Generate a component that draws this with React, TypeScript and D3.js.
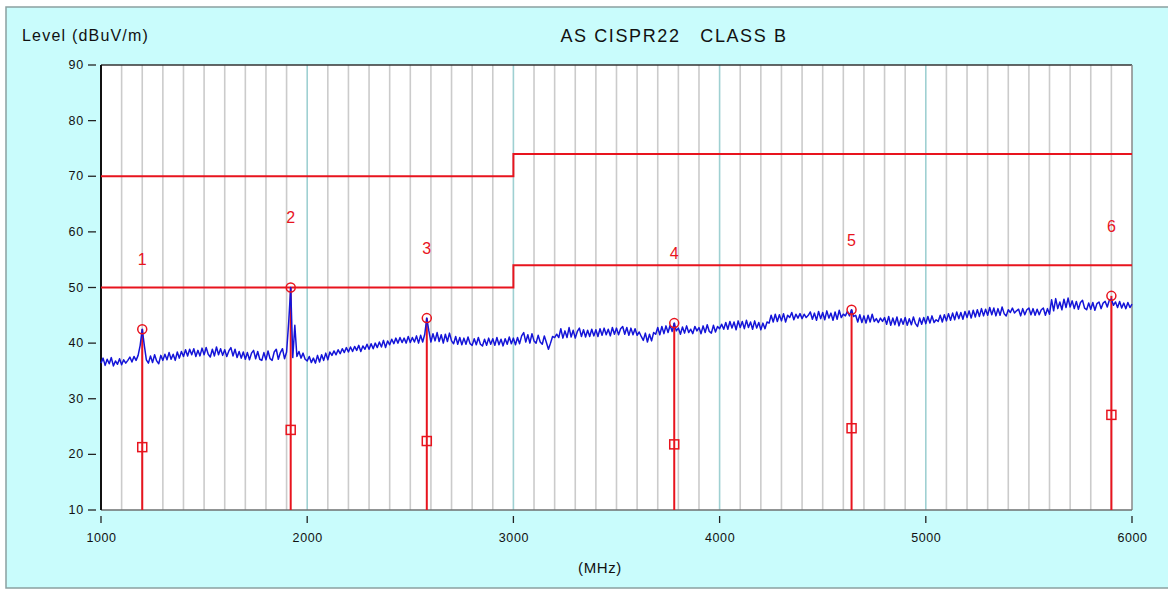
import React from "react";
import * as d3 from "d3";

const chartTitle = "AS CISPR22   CLASS B";
const yAxisTitle = "Level (dBuV/m)";
const xAxisTitle = "(MHz)";

const xTicks = [1000, 2000, 3000, 4000, 5000, 6000];
const yTicks = [10, 20, 30, 40, 50, 60, 70, 80, 90];

// limit lines: [startMHz, endMHz, level]
const peakLimit = [
  [1000, 3000, 70],
  [3000, 6000, 74],
];
const avgLimit = [
  [1000, 3000, 50],
  [3000, 6000, 54],
];

const markerLabels = ["1", "2", "3", "4", "5", "6"];
const markerFreqs = [1200, 1920, 2580, 3780, 4640, 5900];
const markerPeaks = [42.5, 50.0, 44.5, 43.6, 46.0, 48.5];
const markerAverages = [21.3, 24.4, 22.4, 21.8, 24.7, 27.1];

const traceStartMHz = 1000;
const traceStepMHz = 10;
const traceLevels = [
  36.4, 37.3, 36.0, 37.1, 36.3, 37.4, 35.9, 36.8, 36.2, 37.2, 36.1, 37.0, 36.4, 36.9, 37.5, 36.6, 37.6, 36.9, 37.8, 39.6,
  42.5, 39.6, 37.0, 36.4, 37.7, 36.5, 37.9, 36.8, 36.3, 37.8, 36.9, 38.0, 37.0, 38.3, 37.1, 38.0, 36.9, 38.4, 37.3, 38.5,
  37.6, 38.8, 37.7, 38.9, 37.9, 39.0, 37.6, 38.7, 37.7, 39.1, 37.9, 39.2, 38.0, 37.5, 38.9, 37.7, 39.3, 37.9, 39.0, 37.8,
  38.8, 37.6, 38.6, 39.2, 37.7, 38.9, 37.4, 38.5, 37.3, 38.4, 37.1, 38.3, 37.0, 38.2, 38.7, 37.2, 38.5, 37.1, 36.9, 38.3,
  37.0, 38.6, 37.2, 36.9, 38.4, 38.9, 37.1, 38.3, 39.0, 37.2, 38.4, 43.6, 50.0, 37.4, 43.2, 37.6, 38.5, 37.3, 38.2, 37.1,
  36.8, 37.6, 36.5, 37.3, 36.4, 37.8, 36.6, 37.9, 36.9, 38.2, 37.0, 38.4, 37.8, 38.6, 37.9, 38.8, 38.1, 39.0, 38.3, 39.2,
  38.4, 39.3, 38.5, 39.4, 38.7, 39.6, 38.5, 39.5, 38.9, 39.8, 38.9, 39.9, 39.0, 40.0, 39.2, 40.2, 39.3, 40.5, 39.2, 40.4,
  39.7, 40.7, 39.9, 40.9, 40.0, 41.0, 40.1, 40.9, 40.0, 41.2, 40.1, 41.0, 40.2, 41.3, 40.0, 41.4, 40.2, 41.6, 44.5, 42.2,
  40.2, 41.7, 40.4, 41.9, 40.3, 41.5, 40.0, 41.6, 40.3, 41.8, 40.4, 39.9, 41.2, 39.8, 41.0, 39.7, 40.9, 39.8, 41.1, 39.9,
  39.6, 40.8, 39.7, 41.0, 39.8, 39.5, 40.7, 39.6, 40.9, 39.8, 40.8, 39.6, 41.0, 39.7, 40.7, 39.5, 40.8, 39.8, 41.1, 39.9,
  40.9, 39.7, 41.0, 39.9, 41.3, 41.9, 40.2, 41.5, 40.0, 41.7, 40.4, 40.0, 41.4, 40.2, 39.8, 41.3, 40.1, 38.9, 40.0, 41.2,
  41.0, 41.6, 41.0, 42.6, 40.9, 42.2, 41.0, 42.8, 41.1, 42.3, 40.9, 42.1, 42.7, 41.2, 42.4, 41.1, 42.3, 41.2, 42.5, 41.3,
  42.4, 41.2, 42.6, 41.4, 42.7, 41.5, 42.5, 41.3, 42.8, 41.6, 42.7, 41.5, 42.6, 43.0, 41.6, 42.8, 41.4, 42.7, 41.5, 42.6,
  41.4, 42.0, 41.2, 40.5, 41.8, 40.2, 41.6, 40.4, 41.9, 41.6, 42.8, 41.5, 43.0, 41.7, 43.1, 41.9, 43.2, 42.1, 43.6, 42.2,
  42.7, 41.6, 42.9, 41.8, 43.1, 41.9, 42.5, 41.7, 43.0, 42.2, 42.8, 41.7, 43.1, 41.9, 43.3, 42.1, 41.8, 43.2, 42.0, 43.0,
  42.6, 43.4, 42.5, 43.7, 42.5, 43.9, 42.7, 43.8, 42.4, 44.0, 42.8, 43.9, 42.6, 44.1, 42.8, 43.8, 42.5, 44.0, 42.7, 43.7,
  42.4, 43.6, 42.6, 43.8, 43.6, 45.0, 43.8, 45.2, 43.9, 45.1, 44.0, 45.3, 43.8, 45.0, 44.6, 45.5, 44.2, 45.2, 44.5, 45.3,
  44.4, 45.2, 44.6, 45.0, 45.6, 44.3, 45.4, 44.1, 45.7, 44.4, 45.5, 44.2, 45.8, 44.5, 45.4, 44.1, 45.6, 44.3, 45.9, 44.6,
  45.2, 44.9, 45.7, 44.9, 46.0, 44.8, 45.0, 43.8, 45.1, 43.7, 44.9, 43.6, 45.0, 43.8, 45.2, 43.9, 44.4, 43.7, 44.5, 43.9,
  44.6, 43.4, 44.8, 43.2, 44.5, 43.3, 44.7, 43.1, 44.4, 43.4, 44.6, 43.2, 44.4, 43.3, 44.7, 43.5, 43.0, 44.5, 43.4, 44.6,
  43.5, 44.8, 43.6, 44.9, 43.7, 44.2, 43.9, 45.0, 43.8, 45.1, 44.0, 45.3, 44.1, 45.4, 44.2, 45.6, 44.4, 45.5, 44.3, 45.7,
  44.6, 45.8, 44.5, 45.9, 44.7, 46.0, 44.8, 46.2, 44.9, 46.1, 45.0, 46.4, 45.1, 46.3, 44.9, 46.2, 45.0, 46.5, 45.3, 44.9,
  46.0, 45.5, 46.3, 45.4, 45.8, 46.1, 44.9, 46.2, 45.1, 46.0, 46.3, 45.1, 46.2, 45.0, 46.1, 45.1, 46.0, 46.3, 45.0, 46.2,
  45.2, 47.8, 45.8, 48.0, 46.2, 47.4, 46.0, 47.9, 46.4, 48.1, 46.5, 47.6, 46.2, 47.5, 46.1, 47.3, 47.7, 46.3, 46.0, 47.2,
  46.1, 47.3, 45.9, 47.1, 47.4, 46.2, 47.2, 47.5, 46.5, 47.7, 47.9, 46.8, 47.4, 46.4, 47.5, 46.3, 47.2, 46.2, 47.3, 46.4,
  47.0,
];

const W = 1168;
const H = 590;
const plotLeft = 101;
const plotRight = 1132;
const plotTop = 65;
const plotBottom = 510;

const RED = "#e8141e";
const BLUE = "#1414d8";
const FONT = "Arial, 'Liberation Sans', sans-serif";

export default function App() {
  const x = d3.scaleLinear().domain([1000, 6000]).range([plotLeft, plotRight]);
  const y = d3.scaleLinear().domain([10, 90]).range([plotBottom, plotTop]);

  const gridFreqs = d3.range(1100, 6000, 100);

  const tracePts: [number, number][] = traceLevels.map((v, i) => [traceStartMHz + i * traceStepMHz, v]);
  const traceLine = d3
    .line<[number, number]>()
    .x((d) => x(d[0]))
    .y((d) => y(d[1]));

  const limitPath = (segs: number[][]) => {
    const pts: [number, number][] = [];
    segs.forEach((s) => {
      pts.push([s[0], s[2]]);
      pts.push([s[1], s[2]]);
    });
    return d3
      .line<[number, number]>()
      .x((d) => x(d[0]))
      .y((d) => y(d[1]))(pts) as string;
  };

  const labelOffsetDb = 12.5;

  return (
    <svg
      width={W}
      height={H}
      style={{ position: "absolute", left: 0, top: 0, background: "#ffffff" }}
      fontFamily={FONT}
    >
      <rect x={6} y={7} width={W} height={581} fill="#c9fcfc" stroke="#8aa0a0" strokeWidth={1.5} />

      {/* plot area */}
      <rect x={plotLeft} y={plotTop} width={plotRight - plotLeft} height={plotBottom - plotTop} fill="#ffffff" />

      {/* grid */}
      {gridFreqs.map((f) => (
        <line
          key={f}
          x1={x(f)}
          x2={x(f)}
          y1={plotTop}
          y2={plotBottom}
          stroke={f % 1000 === 0 ? "#9fd0d2" : "#cbcbcb"}
          strokeWidth={1.6}
        />
      ))}

      {/* frame */}
      <line x1={plotLeft} x2={plotRight} y1={plotTop} y2={plotTop} stroke="#333" strokeWidth={1.5} />
      <line x1={plotRight} x2={plotRight} y1={plotTop} y2={plotBottom} stroke="#888" strokeWidth={1.5} />
      <line x1={plotLeft} x2={plotRight} y1={plotBottom} y2={plotBottom} stroke="#6c7070" strokeWidth={1.5} />
      <line x1={plotLeft} x2={plotLeft} y1={plotTop} y2={plotBottom} stroke="#111" strokeWidth={2} />

      {/* limit lines */}
      <path d={limitPath(peakLimit)} fill="none" stroke={RED} strokeWidth={2} />
      <path d={limitPath(avgLimit)} fill="none" stroke={RED} strokeWidth={2} />

      {/* marker stems */}
      {markerFreqs.map((f, i) => (
        <line key={"s" + i} x1={x(f)} x2={x(f)} y1={y(markerPeaks[i])} y2={plotBottom} stroke={RED} strokeWidth={2} />
      ))}

      {/* trace */}
      <path d={traceLine(tracePts) as string} fill="none" stroke={BLUE} strokeWidth={1.5} strokeLinejoin="round" />

      {/* markers */}
      {markerFreqs.map((f, i) => (
        <g key={"m" + i}>
          <circle cx={x(f)} cy={y(markerPeaks[i])} r={4.5} fill="none" stroke={RED} strokeWidth={1.5} />
          <rect
            x={x(f) - 4.5}
            y={y(markerAverages[i]) - 4.5}
            width={9}
            height={9}
            fill="none"
            stroke={RED}
            strokeWidth={1.5}
          />
          <text
            x={x(f)}
            y={y(markerPeaks[i] + labelOffsetDb)}
            fill={RED}
            fontSize={16}
            textAnchor="middle"
            dominantBaseline="central"
          >
            {markerLabels[i]}
          </text>
        </g>
      ))}

      {/* y axis ticks */}
      {yTicks.map((t) => (
        <g key={"y" + t}>
          <line x1={88} x2={96} y1={y(t)} y2={y(t)} stroke="#222" strokeWidth={1.3} />
          <text
            x={84}
            y={y(t)}
            fontSize={12.5}
            letterSpacing={0.8}
            textAnchor="end"
            dominantBaseline="central"
            fill="#111"
          >
            {t}
          </text>
        </g>
      ))}

      {/* x axis ticks */}
      {xTicks.map((t) => (
        <g key={"x" + t}>
          <line x1={x(t)} x2={x(t)} y1={516} y2={523} stroke="#222" strokeWidth={1.3} />
          <text
            x={x(t) + 0.5}
            y={538}
            fontSize={12.5}
            letterSpacing={0.6}
            textAnchor="middle"
            dominantBaseline="central"
            fill="#111"
          >
            {t}
          </text>
        </g>
      ))}

      <text x={22} y={35} fontSize={16} letterSpacing={1.2} fill="#111" dominantBaseline="central">
        {yAxisTitle}
      </text>
      <text
        x={674}
        y={36}
        fontSize={18}
        letterSpacing={1.6}
        fill="#111"
        textAnchor="middle"
        dominantBaseline="central"
        style={{ whiteSpace: "pre" }}
      >
        {chartTitle}
      </text>
      <text x={600} y={567} fontSize={15} letterSpacing={0.6} fill="#111" textAnchor="middle" dominantBaseline="central">
        {xAxisTitle}
      </text>
    </svg>
  );
}
